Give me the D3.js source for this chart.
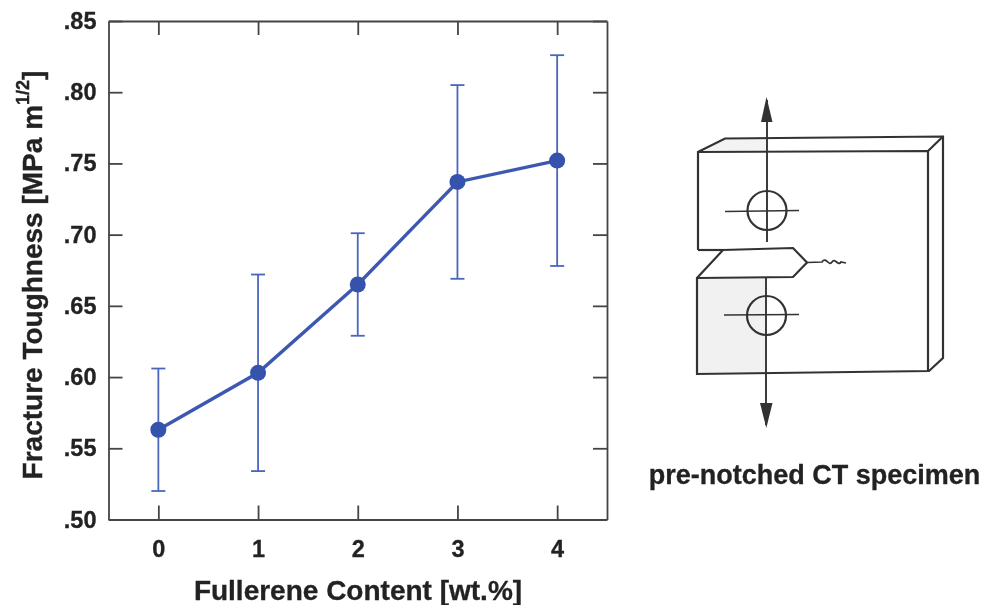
<!DOCTYPE html>
<html>
<head>
<meta charset="utf-8">
<script src="https://cdn.jsdelivr.net/npm/d3@7"></script>
<style>
    html, body { margin: 0; padding: 0; background: #fff; }
    svg { display: block; }
    text { font-family: "Liberation Sans", Arial, sans-serif; font-weight: bold; fill: #222; stroke: #222; stroke-width: 0.3; }
    .frame path, .frame line { stroke: #444; stroke-width: 1.8; }
</style>
</head>
<body>
<div id="chart"></div>
<script>
    var content = [0, 1, 2, 3, 4];
    var toughness = [0.563, 0.603, 0.665, 0.737, 0.752];
    var errorHigh = [0.606, 0.672, 0.701, 0.805, 0.826];
    var errorLow = [0.520, 0.534, 0.629, 0.669, 0.678];
    var yTicks = [0.50, 0.55, 0.60, 0.65, 0.70, 0.75, 0.80, 0.85];
    var yTickLabels = [".50", ".55", ".60", ".65", ".70", ".75", ".80", ".85"];

    var width = 985, height = 605;
    var left = 108.5, right = 607, top_ = 21, bottom = 519.5;
    var tickLen = 14;

    var x = d3.scaleLinear().domain([-0.5, 4.5]).range([left, right]);
    var y = d3.scaleLinear().domain([0.50, 0.85]).range([bottom, top_]);

    var svg = d3.select("#chart").append("svg")
        .attr("width", width)
        .attr("height", height);

    // the reference is a slightly soft scan
    svg.append("defs").append("filter")
        .attr("id", "soft")
        .append("feGaussianBlur")
        .attr("stdDeviation", 0.45);

    var root = svg.append("g").attr("filter", "url(#soft)");

    function frameAxis(axis, tx, ty) {
        var g = root.append("g")
            .attr("class", "frame")
            .attr("transform", "translate(" + tx + "," + ty + ")")
            .call(axis);
        g.selectAll("text").attr("fill", "#222").style("font-size", "23.5px");
        return g;
    }

    var yLabel = function(d) { return yTickLabels[yTicks.indexOf(d)]; };

    frameAxis(d3.axisBottom(x).tickValues(content).tickFormat(d3.format("d"))
        .tickSize(-tickLen).tickSizeOuter(0).tickPadding(tickLen + 7), 0, bottom);
    frameAxis(d3.axisTop(x).tickValues(content).tickFormat("").tickSize(-tickLen).tickSizeOuter(0), 0, top_);
    frameAxis(d3.axisLeft(y).tickValues(yTicks).tickFormat(yLabel)
        .tickSize(-tickLen).tickSizeOuter(0).tickPadding(tickLen - 2), left, 0);
    frameAxis(d3.axisRight(y).tickValues(yTicks).tickFormat("").tickSize(-tickLen).tickSizeOuter(0), right, 0);

    // error bars
    var bars = root.append("g").attr("stroke", "#4a66bd").attr("stroke-width", 1.8);
    bars.selectAll(".stem").data(content).enter().append("line")
        .attr("class", "stem")
        .attr("x1", function(d) { return x(d); })
        .attr("x2", function(d) { return x(d); })
        .attr("y1", function(d, i) { return y(errorLow[i]); })
        .attr("y2", function(d, i) { return y(errorHigh[i]); });
    [errorLow, errorHigh].forEach(function(values) {
        bars.selectAll(null).data(content).enter().append("line")
            .attr("x1", function(d) { return x(d) - 7; })
            .attr("x2", function(d) { return x(d) + 7; })
            .attr("y1", function(d, i) { return y(values[i]); })
            .attr("y2", function(d, i) { return y(values[i]); });
    });

    var line = d3.line()
        .x(function(d) { return x(d); })
        .y(function(d, i) { return y(toughness[i]); });

    root.append("path")
        .datum(content)
        .attr("d", line)
        .attr("fill", "none")
        .attr("stroke", "#3d58b2")
        .attr("stroke-width", 3.4);

    root.selectAll(".dot").data(content).enter().append("circle")
        .attr("class", "dot")
        .attr("cx", function(d) { return x(d); })
        .attr("cy", function(d, i) { return y(toughness[i]); })
        .attr("r", 8)
        .attr("fill", "#3553ad");

    // axis titles
    root.append("text")
        .attr("x", 358)
        .attr("y", 600)
        .attr("text-anchor", "middle")
        .style("font-size", "28px")
        .text("Fullerene Content [wt.%]");

    var yTitle = root.append("text")
        .attr("transform", "translate(42,275) rotate(-90)")
        .attr("text-anchor", "middle")
        .style("font-size", "28px");
    yTitle.append("tspan").text("Fracture Toughness [MPa m");
    yTitle.append("tspan").attr("dy", -13).style("font-size", "18px").text("1/2");
    yTitle.append("tspan").attr("dy", 13).text("]");

    // CT specimen sketch
    var sketch = root.append("g")
        .attr("fill", "none")
        .attr("stroke", "#333")
        .attr("stroke-width", 2.2);

    function outline(d, fill, strokeWidth) {
        return sketch.append("path")
            .attr("d", d)
            .attr("fill", fill || "none")
            .attr("stroke-width", strokeWidth || 2.2);
    }

    sketch.append("path").attr("d", "M703,152L725,139H766V152Z").attr("fill", "#f3f3f3").attr("stroke", "none");
    sketch.append("path").attr("d", "M698,278H766V373H697Z").attr("fill", "#f1f1f1").attr("stroke", "none");

    outline("M698,250V152L725,138.5L943,136.5V358L929,371L697,374V278L723,250L793,248L807,262.5L793,277L698,278");
    outline("M698,250L723,250");
    outline("M698,152L928,151V371");
    outline("M928,151L943,136.5");
    outline("M807,262.5L822,262C826,256 829,267 832,262C835,257 838,267 841,262L846,263", null, 1.7);

    sketch.append("circle").attr("cx", 767).attr("cy", 210.5).attr("r", 19.5);
    sketch.append("circle").attr("cx", 766.5).attr("cy", 315.5).attr("r", 19.5);
    outline("M725,211.5L799,210.5", null, 1.7);
    outline("M724,315L799,314.5", null, 1.7);
    outline("M767,100V242", null, 1.9);
    outline("M766,277V425", null, 1.9);

    sketch.append("path").attr("d", "M766.5,97L772.5,122H761Z").attr("fill", "#333").attr("stroke", "none");
    sketch.append("path").attr("d", "M766.3,428L772.5,403H760Z").attr("fill", "#333").attr("stroke", "none");

    root.append("text")
        .attr("x", 814.5)
        .attr("y", 484)
        .attr("text-anchor", "middle")
        .style("font-size", "27px")
        .text("pre-notched CT specimen");
</script>
</body>
</html>
